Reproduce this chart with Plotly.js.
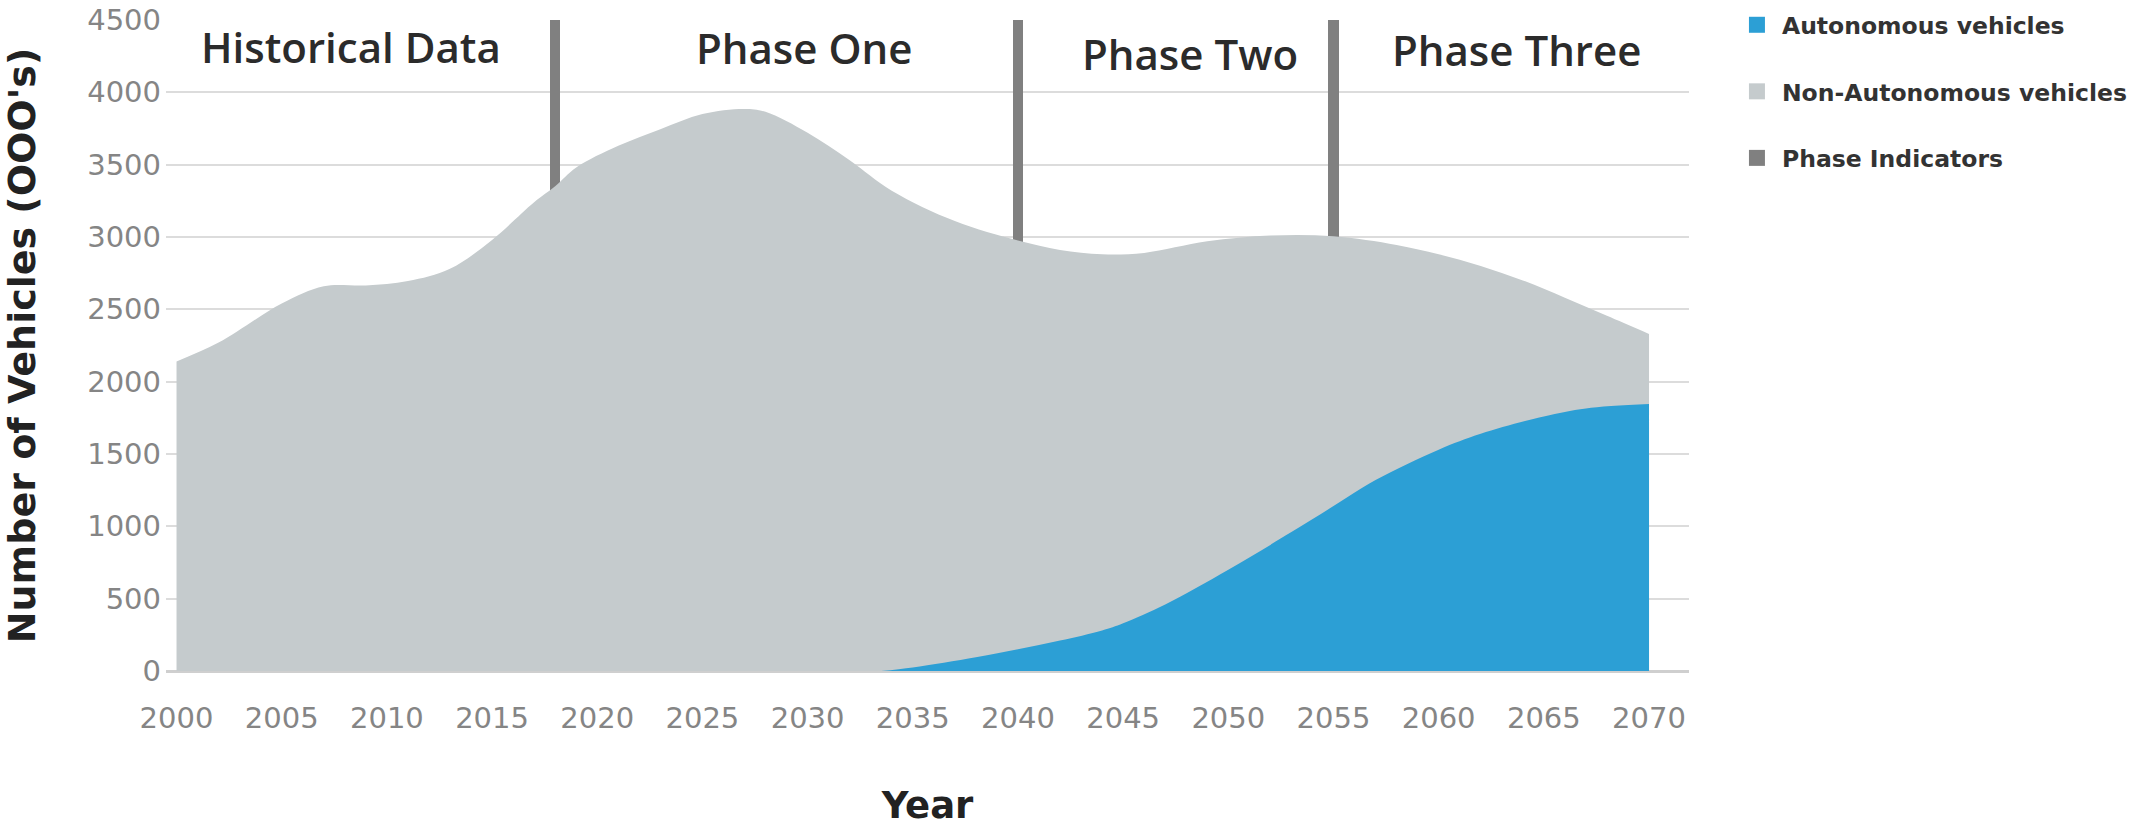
<!DOCTYPE html>
<html>
<head>
<meta charset="utf-8">
<script src="https://cdn.plot.ly/plotly-3.0.1.min.js"></script>
<style>html,body{margin:0;padding:0;background:#fff;}#chart{width:2138px;height:827px;}</style>
</head>
<body>
<div id="chart"></div>
<script>
// Total vehicles (top of grey area), thousands
const totalYears = [2000,2002,2005,2007,2009,2011,2013,2015,2017,2018,2019,2021,2023,2025,2027,2028,2030,2032,2034,2037,2040,2042,2044,2046,2049,2052,2055,2058,2060,2062,2064,2066,2068,2070];
const totalValues = [2140,2270,2540,2660,2665,2695,2780,2980,3240,3350,3480,3630,3745,3850,3885,3865,3720,3530,3320,3110,2975,2910,2880,2890,2970,3010,3005,2945,2880,2800,2700,2580,2455,2330];
// Autonomous vehicles, thousands
const avYears = [2033.5,2035,2038,2040,2042,2044,2045,2047,2050,2053,2055,2057,2060,2062,2065,2067,2070];
const avValues = [0,25,95,150,210,280,330,460,700,960,1140,1320,1530,1640,1760,1815,1845];
// Phase indicator positions
const phaseYears = [2018,2040,2055];
const phaseHeight = [4500,4500,4500];
// Phase labels
const phaseLabels = ["Historical Data","Phase One","Phase Two","Phase Three"];
const phaseLabelX = [2008.3,2029.85,2048.2,2063.7];
const phaseLabelY = [4320,4312,4266,4297];
// Axis ticks
const xTicks = [2000,2005,2010,2015,2020,2025,2030,2035,2040,2045,2050,2055,2060,2065,2070];
const yTicks = [0,500,1000,1500,2000,2500,3000,3500,4000,4500];
const legendNames = ["Autonomous vehicles","Non-Autonomous vehicles","Phase Indicators"];

const cBlue = "#2c9fd5", cGrey = "#c5cbcd", cDark = "#808080";

const traces = [
  {type:"bar", x:phaseYears, y:phaseHeight, width:0.5, marker:{color:cDark}, showlegend:false, hoverinfo:"skip"},
  {type:"scatter", x:totalYears, y:totalValues, mode:"lines", line:{width:0, shape:"spline", smoothing:1}, fill:"tozeroy", fillcolor:cGrey, showlegend:false},
  {type:"scatter", x:avYears, y:avValues, mode:"lines", line:{width:0, shape:"spline", smoothing:1}, fill:"tozeroy", fillcolor:cBlue, showlegend:false},
  {type:"scatter", x:[null], y:[null], mode:"markers", name:legendNames[0], legendgroup:"a", marker:{symbol:"square", size:20, color:cBlue}},
  {type:"scatter", x:[null], y:[null], mode:"markers", name:legendNames[1], legendgroup:"b", marker:{symbol:"square", size:20, color:cGrey}},
  {type:"scatter", x:[null], y:[null], mode:"markers", name:legendNames[2], legendgroup:"c", marker:{symbol:"square", size:20, color:cDark}}
];

const annotations = phaseLabels.map((t,i)=>({
  text:t, x:phaseLabelX[i], y:phaseLabelY[i], xref:"x", yref:"y", showarrow:false,
  font:{family:"Open Sans", size:42, color:"#2b2b2b", weight:600}, xanchor:"center", yanchor:"middle"
}));

const layout = {
  width:2138, height:827,
  margin:{l:166, r:449, t:20, b:156, autoexpand:false},
  paper_bgcolor:"#fff", plot_bgcolor:"#fff",
  showlegend:true,
  legend:{x:1.0282, xanchor:"left", y:1.0261, yanchor:"top", traceorder:"grouped", tracegroupgap:33, itemwidth:40,
          font:{family:"DejaVu Sans", size:23.5, color:"#333", weight:"bold"}, bgcolor:"rgba(0,0,0,0)"},
  xaxis:{range:[1999.5,2071.9], tickvals:xTicks, ticktext:xTicks.map(String), showgrid:false, zeroline:false,
         showline:false, ticks:"", ticklabelstandoff:27, ticklabeloverflow:"allow", tickfont:{family:"DejaVu Sans", size:29, color:"#858585"},
         title:{text:"Year", font:{family:"DejaVu Sans", size:37, color:"#222", weight:"bold"}, standoff:58}},
  yaxis:{range:[0,4500], tickvals:yTicks, ticktext:yTicks.map(String), showgrid:true, gridcolor:"#dcdcdc", gridwidth:2,
         zeroline:true, zerolinecolor:"#cfcfcf", zerolinewidth:3, showline:false, ticks:"", ticklabelstandoff:4, ticklabeloverflow:"allow",
         tickfont:{family:"DejaVu Sans", size:29, color:"#858585"},
         title:{text:"Number of Vehicles (OOO's)", font:{family:"DejaVu Sans", size:38, color:"#222", weight:"bold"}, standoff:44}},
  annotations:annotations,
  bargap:0
};

Plotly.newPlot("chart", traces, layout, {displayModeBar:false, staticPlot:true});
</script>
</body>
</html>
